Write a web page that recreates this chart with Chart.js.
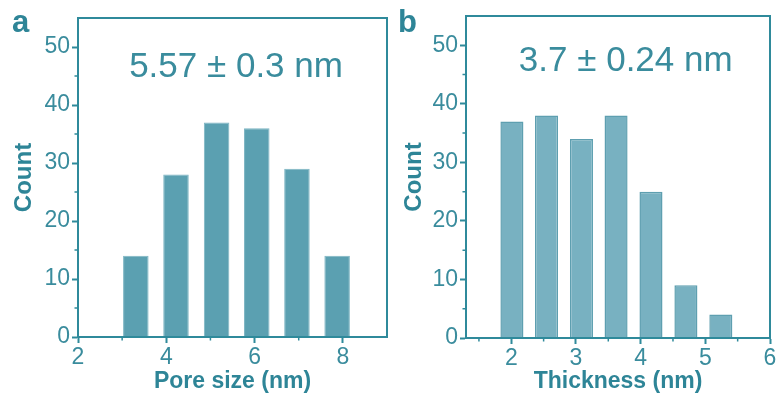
<!DOCTYPE html>
<html>
<head>
<meta charset="utf-8">
<script src="https://cdn.jsdelivr.net/npm/chart.js@4.4.1/dist/chart.umd.min.js"></script>
<style>
    html, body { margin: 0; padding: 0; background: #ffffff; }
    #wrap { position: relative; width: 779px; height: 394px; overflow: hidden; }
    .panel { position: absolute; top: 0; }
    .tag {
        position: absolute; top: 4px;
        font-family: 'Liberation Sans', Arial, sans-serif;
        font-weight: bold; font-size: 31px; color: #2e8597;
    }
</style>
</head>
<body>
<div id="wrap">
    <canvas id="poreChart" class="panel" style="left:0" width="390" height="394"></canvas>
    <canvas id="thickChart" class="panel" style="left:390px" width="389" height="394"></canvas>
    <div class="tag" style="left:12px">a</div>
    <div class="tag" style="left:398px">b</div>
</div>
<script>
// panel a: pore size histogram
const poreCenters = [3.31, 4.22, 5.14, 6.05, 6.96, 7.87];
const poreCounts = [14, 28, 37, 36, 29, 14];
const poreTicks = [2, 4, 6, 8];
const poreMinor = [3, 5, 7];
const poreNote = '5.57 ± 0.3 nm';

// panel b: thickness histogram
const thickCenters = [2.01, 2.545, 3.085, 3.62, 4.16, 4.70, 5.24];
const thickCounts = [37, 38, 34, 38, 25, 9, 4];
const thickTicks = [2, 3, 4, 5, 6];
const thickMinor = [1.5, 2.5, 3.5, 4.5, 5.5];
const thickNote = '3.7 ± 0.24 nm';

// shared y axis
const countTicks = [0, 10, 20, 30, 40, 50];
const countMinor = [5, 15, 25, 35, 45];

const axisColor = '#2f8a9b';
const textColor = '#3a8c9d';
const fontFamily = "'Liberation Sans', Arial, sans-serif";

/* box outline, minor ticks and the note text */
const framePlugin = {
    id: 'frame',
    afterDraw(chart, args, opts) {
        const { ctx, chartArea: a, scales } = chart;
        ctx.save();
        ctx.strokeStyle = axisColor;
        ctx.lineWidth = 2;
        ctx.strokeRect(a.left, a.top, a.right - a.left, a.bottom - a.top);

        ctx.lineWidth = 1.5;
        ctx.beginPath();
        opts.xMinor.forEach(v => {
            const px = scales.x.getPixelForValue(v);
            ctx.moveTo(px, a.bottom);
            ctx.lineTo(px, a.bottom + 3.5);
        });
        opts.yMinor.forEach(v => {
            const py = scales.y.getPixelForValue(v);
            ctx.moveTo(a.left, py);
            ctx.lineTo(a.left - 3.5, py);
        });
        ctx.stroke();

        ctx.fillStyle = textColor;
        ctx.font = '35px ' + fontFamily;
        ctx.textAlign = 'center';
        ctx.textBaseline = 'middle';
        ctx.fillText(opts.note, scales.x.getPixelForValue(opts.noteAt[0]), scales.y.getPixelForValue(opts.noteAt[1]));
        ctx.restore();
    }
};

function makeHistogram(canvasId, centers, counts, cfg) {
    const ctx = document.getElementById(canvasId);
    return new Chart(ctx, {
        type: 'bar',
        data: {
            datasets: [{
                data: centers.map((x, i) => ({ x: x, y: counts[i] })),
                backgroundColor: cfg.fill,
                borderColor: cfg.edge,
                borderWidth: cfg.edgeWidth,
                borderSkipped: 'bottom',
                barPercentage: cfg.barPct,
                categoryPercentage: 1
            }]
        },
        options: {
            responsive: false,
            animation: false,
            layout: { padding: cfg.padding },
            plugins: {
                legend: { display: false },
                tooltip: { enabled: false },
                frame: { xMinor: cfg.xMinor, yMinor: countMinor, note: cfg.note, noteAt: cfg.noteAt }
            },
            scales: {
                x: {
                    type: 'linear',
                    offset: false,
                    min: cfg.xMin,
                    max: cfg.xMax,
                    afterBuildTicks: s => { s.ticks = cfg.xTicks.map(v => ({ value: v })); },
                    afterFit: s => { s.height = cfg.xHeight; },
                    grid: { offset: false, drawOnChartArea: false, color: axisColor, tickLength: 6, tickWidth: 2 },
                    border: { color: axisColor, width: 2 },
                    ticks: { color: textColor, font: { family: fontFamily, size: 23 }, padding: 1, maxRotation: 0 },
                    title: {
                        display: true, text: cfg.xTitle, color: '#2e8597',
                        font: { family: fontFamily, size: 23, weight: 'bold', lineHeight: 1 },
                        padding: { top: 0, bottom: 1 }
                    }
                },
                y: {
                    min: 0,
                    max: 55,
                    afterBuildTicks: s => { s.ticks = countTicks.map(v => ({ value: v })); },
                    afterFit: s => { s.width = cfg.yWidth; },
                    grid: { drawOnChartArea: false, color: axisColor, tickLength: 6, tickWidth: 2 },
                    border: { color: axisColor, width: 2 },
                    ticks: { color: textColor, font: { family: fontFamily, size: 23 }, padding: 2 },
                    title: {
                        display: true, text: 'Count', color: '#2e8597',
                        font: { family: fontFamily, size: 24, weight: 'bold', lineHeight: 1 },
                        padding: { top: 12, bottom: 0 }
                    }
                }
            }
        },
        plugins: [framePlugin]
    });
}

makeHistogram('poreChart', poreCenters, poreCounts, {
    fill: '#5ba0b1', edge: '#7db5c3', edgeWidth: 1, barPct: 0.635,
    xMin: 2, xMax: 9, xTicks: poreTicks, xMinor: poreMinor,
    xTitle: 'Pore size (nm)', note: poreNote, noteAt: [5.58, 46.5],
    padding: { left: 0, top: 18, right: 3, bottom: 0 }, xHeight: 57, yWidth: 78
});

makeHistogram('thickChart', thickCenters, thickCounts, {
    fill: '#78b1c1', edge: '#5e9fb0', edgeWidth: 1.5, barPct: 0.666,
    xMin: 1.3, xMax: 6, xTicks: thickTicks, xMinor: thickMinor,
    xTitle: 'Thickness (nm)', note: thickNote, noteAt: [3.77, 47.2],
    padding: { left: 0, top: 16, right: 9, bottom: 0 }, xHeight: 56, yWidth: 76
});
</script>
</body>
</html>
